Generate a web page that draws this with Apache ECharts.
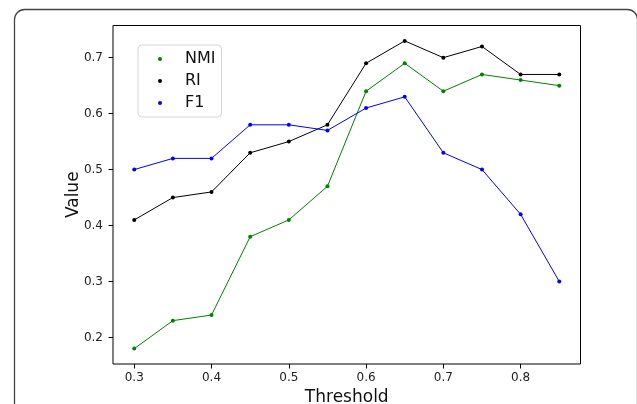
<!DOCTYPE html>
<html>
<head>
<meta charset="utf-8">
<script src="https://cdn.jsdelivr.net/npm/echarts@6/dist/echarts.min.js"></script>
<style>
  html, body { margin: 0; padding: 0; background: #fff; }
  #chart { width: 637px; height: 404px; }
</style>
</head>
<body>
<div id="chart"></div>
<script>
// values
const thresholds = [0.3, 0.35, 0.4, 0.45, 0.5, 0.55, 0.6, 0.65, 0.7, 0.75, 0.8, 0.85]
const nmi = [0.18, 0.23, 0.24, 0.38, 0.41, 0.47, 0.64, 0.69, 0.64, 0.67, 0.66, 0.65]
const ri = [0.41, 0.45, 0.46, 0.53, 0.55, 0.58, 0.69, 0.73, 0.70, 0.72, 0.67, 0.67]
const f1 = [0.50, 0.52, 0.52, 0.58, 0.58, 0.57, 0.61, 0.63, 0.53, 0.50, 0.42, 0.30]
const xTicks = [0.3, 0.4, 0.5, 0.6, 0.7, 0.8]
const yTicks = [0.2, 0.3, 0.4, 0.5, 0.6, 0.7]

const font = 'DejaVu Sans'

function pairs(ys) {
  return thresholds.map((x, i) => [x, ys[i]])
}

function makeSeries(name, ys, color) {
  return {
    name,
    type: 'line',
    data: pairs(ys),
    symbol: 'circle',
    symbolSize: 4,
    showSymbol: true,
    itemStyle: { color },
    lineStyle: { color, width: 1 },
    emphasis: { disabled: true },
  }
}

const axisCommon = {
  type: 'value',
  splitLine: { show: false },
  axisLine: { show: false },
  axisTick: { show: true, length: 4.5, lineStyle: { color: '#000', width: 1 } },
  nameTextStyle: { fontFamily: font, fontSize: 17, color: '#111' },
  nameMoveOverlap: false,
}

const chart = echarts.init(document.getElementById('chart'))
chart.setOption({
  animation: false,
  graphic: [
    {
      type: 'rect',
      shape: { x: 14.5, y: 9.5, width: 623, height: 520, r: 10 },
      style: { fill: 'none', stroke: '#444', lineWidth: 1.3 },
      silent: true,
    },
  ],
  grid: {
    left: 113,
    top: 25.5,
    right: 56.5,
    bottom: 40,
    show: true,
    borderColor: '#000',
    borderWidth: 1,
    backgroundColor: 'transparent',
    outerBoundsMode: 'none',
  },
  legend: {
    left: 138,
    top: 45,
    orient: 'vertical',
    icon: 'circle',
    itemWidth: 4,
    itemHeight: 4,
    itemGap: 6,
    padding: [6, 6, 6, 20],
    backgroundColor: '#fff',
    borderColor: '#d6d6d6',
    borderWidth: 1,
    borderRadius: 4,
    textStyle: { fontFamily: font, fontSize: 16, lineHeight: 16, color: '#111', padding: [0, 0, 0, 18] },
    data: ['NMI', 'RI', 'F1'],
  },
  xAxis: {
    ...axisCommon,
    min: 0.2725,
    max: 0.8775,
    name: 'Threshold',
    nameLocation: 'middle',
    nameGap: 25,
    axisTick: { ...axisCommon.axisTick, customValues: xTicks },
    axisLabel: {
      customValues: xTicks,
      margin: 8,
      fontFamily: font,
      fontSize: 12,
      color: '#222',
      formatter: (v) => v.toFixed(1),
    },
  },
  yAxis: {
    ...axisCommon,
    min: 0.1525,
    max: 0.7575,
    name: 'Value',
    nameLocation: 'middle',
    nameRotate: 90,
    nameGap: 31,
    axisTick: { ...axisCommon.axisTick, customValues: yTicks },
    axisLabel: {
      customValues: yTicks,
      margin: 10,
      fontFamily: font,
      fontSize: 12,
      color: '#222',
      formatter: (v) => v.toFixed(1),
    },
  },
  series: [
    makeSeries('NMI', nmi, '#008000'),
    makeSeries('RI', ri, '#000000'),
    makeSeries('F1', f1, '#0000ff'),
  ],
})
</script>
</body>
</html>
